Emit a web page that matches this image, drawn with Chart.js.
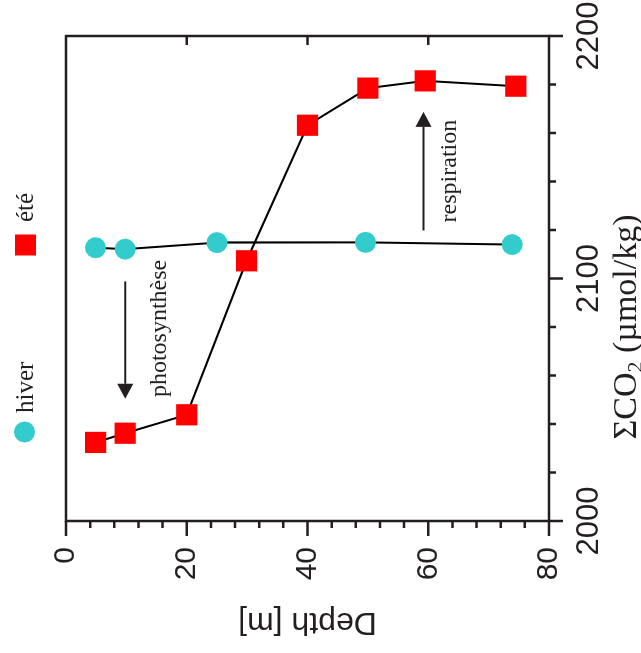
<!DOCTYPE html>
<html>
<head>
<meta charset="utf-8">
<script src="https://cdn.jsdelivr.net/npm/chart.js@4/dist/chart.umd.min.js"></script>
<style>
  html, body { margin: 0; padding: 0; background: #fff; overflow: hidden; }
  #wrap { position: relative; width: 641px; height: 653px; }
  /* the figure is drawn upright (depth down the side) and turned a quarter left */
  #chart { position: absolute; left: 0; top: 0; transform-origin: 0 0; transform: translate(0, 653px) rotate(-90deg); }
</style>
</head>
<body>
<div id="wrap"><canvas id="chart" width="653" height="641"></canvas></div>
<script>
// Sum CO2 profiles: winter (hiver) vs summer (été)
const seriesNames = ['hiver', 'été'];
const depthHiver = [4.9, 9.8, 25.0, 49.6, 73.9];
const co2Hiver = [2112.7, 2112.1, 2114.8, 2114.9, 2114.0];
const depthEte = [4.9, 9.8, 20.0, 29.9, 40.0, 50.0, 59.5, 74.5];
const co2Ete = [2032.4, 2036.2, 2043.8, 2107.3, 2163.2, 2178.5, 2181.5, 2179.3];

// axis ranges and tick steps
const depthRange = [0, 80];
const co2Range = [2000, 2200];
const depthMajor = 20, depthMinor = 4;
const co2Major = 100, co2Minor = 20;

// arrow annotations, in data units (depth, co2 from -> to)
const arrowLabels = ['photosynthèse', 'respiration'];
const arrowDepth = [9.8, 59.2];
const arrowFrom = [2098.8, 2119.8];
const arrowTo = [2050.4, 2168.7];
const labelDepth = [15.6, 63.6];
const labelCo2 = [2079.4, 2144.3];

const ink = '#231f20';
const serif = '"Liberation Serif", "Times New Roman", serif';
const sans = '"Liberation Sans", Arial, sans-serif';

function toPoints(xs, ys) {
    return xs.map((d, i) => ({ x: ys[i], y: d }));
}

// Frame, tick marks, arrows, legend and the CO2 axis title
const decorations = {
    id: 'decorations',
    afterDraw(chart) {
        const { ctx, chartArea: a, scales: { x, y } } = chart;
        ctx.save();
        ctx.strokeStyle = ink;
        ctx.fillStyle = ink;
        ctx.lineWidth = 2.5;
        ctx.strokeRect(a.left, a.top, a.right - a.left, a.bottom - a.top);

        ctx.beginPath();
        for (let d = depthRange[0]; d <= depthRange[1]; d += depthMinor) {
            const py = y.getPixelForValue(d);
            const major = d % depthMajor === 0;
            ctx.moveTo(a.left, py);
            ctx.lineTo(a.left - (major ? 15 : 7), py);
            if (major && d > depthRange[0] && d < depthRange[1]) {
                ctx.moveTo(a.right, py);
                ctx.lineTo(a.right - 9, py);
            }
        }
        for (let c = co2Range[0]; c <= co2Range[1]; c += co2Minor) {
            const px = x.getPixelForValue(c);
            const major = c % co2Major === 0;
            ctx.moveTo(px, a.bottom);
            ctx.lineTo(px, a.bottom + (major ? 14 : 7));
        }
        ctx.stroke();

        // arrows
        ctx.lineWidth = 2;
        arrowLabels.forEach((label, i) => {
            const py = y.getPixelForValue(arrowDepth[i]);
            const x0 = x.getPixelForValue(arrowFrom[i]);
            const x1 = x.getPixelForValue(arrowTo[i]);
            const dir = Math.sign(x1 - x0);
            const head = 15;
            ctx.beginPath();
            ctx.moveTo(x0, py);
            ctx.lineTo(x1 - dir * head, py);
            ctx.stroke();
            ctx.beginPath();
            ctx.moveTo(x1, py);
            ctx.lineTo(x1 - dir * head, py - 8);
            ctx.lineTo(x1 - dir * head, py + 8);
            ctx.closePath();
            ctx.fill();

            ctx.font = '24px ' + serif;
            ctx.textAlign = 'center';
            ctx.textBaseline = 'middle';
            ctx.fillText(label, x.getPixelForValue(labelCo2[i]), y.getPixelForValue(labelDepth[i]));
        });

        // legend
        const ds = chart.data.datasets;
        ctx.textAlign = 'left';
        ctx.textBaseline = 'alphabetic';
        ctx.font = '25px ' + serif;
        ctx.fillStyle = ds[0].backgroundColor;
        ctx.beginPath();
        ctx.arc(221, 24.5, 10.5, 0, Math.PI * 2);
        ctx.fill();
        ctx.fillStyle = ds[1].backgroundColor;
        ctx.fillRect(397.5, 15, 21, 21);
        ctx.fillStyle = ink;
        ctx.fillText(seriesNames[0], 240, 33);
        ctx.fillText(seriesNames[1], 431, 33);

        // x axis title with subscript
        const big = '34px ' + serif, small = '22px ' + serif;
        const parts = [['ΣCO', big, 0], ['2', small, 6], [' (µmol/kg)', big, 0]];
        let total = 0;
        parts.forEach(p => { ctx.font = p[1]; total += ctx.measureText(p[0]).width; });
        let tx = 326 - total / 2;
        const base = 636;
        parts.forEach(p => {
            ctx.font = p[1];
            ctx.fillText(p[0], tx, base + p[2]);
            tx += ctx.measureText(p[0]).width;
        });
        ctx.restore();
    }
};

const ctx = document.getElementById('chart').getContext('2d');
new Chart(ctx, {
    type: 'scatter',
    data: {
        datasets: [
            {
                label: seriesNames[0],
                data: toPoints(depthHiver, co2Hiver),
                showLine: true,
                borderColor: '#000',
                borderWidth: 2,
                backgroundColor: '#33cccc',
                pointBackgroundColor: '#33cccc',
                pointBorderWidth: 0,
                pointStyle: 'circle',
                pointRadius: 10.5
            },
            {
                label: seriesNames[1],
                data: toPoints(depthEte, co2Ete),
                showLine: true,
                borderColor: '#000',
                borderWidth: 2,
                backgroundColor: '#ff0000',
                pointBackgroundColor: '#ff0000',
                pointBorderWidth: 0,
                pointStyle: 'rect',
                pointRadius: 15
            }
        ]
    },
    options: {
        responsive: false,
        animation: false,
        layout: { padding: { top: 66, right: 36, left: 0, bottom: 0 } },
        plugins: { legend: { display: false }, tooltip: { enabled: false } },
        scales: {
            x: {
                type: 'linear',
                position: 'bottom',
                min: co2Range[0],
                max: co2Range[1],
                grid: { display: false, drawTicks: false },
                border: { display: false },
                ticks: {
                    stepSize: co2Major, autoSkip: false, maxRotation: 0, padding: 22, color: ink,
                    font: { family: sans, size: 31 },
                    callback: v => String(v)
                },
                afterFit(scale) {
                    scale.height = 92;
                    scale.paddingLeft = 0;
                    scale.paddingRight = 0;
                }
            },
            y: {
                type: 'linear',
                reverse: true,
                min: depthRange[0],
                max: depthRange[1],
                grid: { display: false, drawTicks: false },
                border: { display: false },
                ticks: {
                    stepSize: depthMajor, autoSkip: false, padding: 26, color: ink,
                    font: { family: sans, size: 30 },
                    callback: v => String(v)
                },
                title: { display: true, text: 'Depth [m]', color: ink, font: { family: sans, size: 32 }, padding: { top: 12, bottom: 0 } },
                afterFit(scale) {
                    scale.width = 132;
                    scale.paddingTop = 0;
                    scale.paddingBottom = 0;
                }
            }
        }
    },
    plugins: [decorations]
});
</script>
</body>
</html>
